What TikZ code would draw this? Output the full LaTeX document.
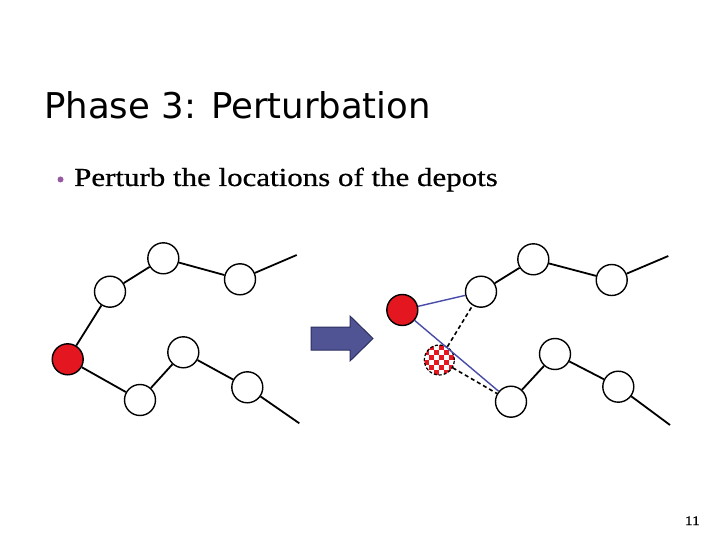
\documentclass[tikz,border=0pt]{standalone}
\usepackage{fontspec}
\setmainfont{Liberation Serif}
\newfontfamily\titlefont{DejaVu Sans}
\newfontfamily\bodyfont[FakeStretch=1.19,FakeBold=0.6]{Liberation Serif}
\definecolor{depotred}{RGB}{228,22,32}
\definecolor{routeblue}{RGB}{72,76,168}
\definecolor{arrowfill}{RGB}{80,84,148}
\definecolor{arrowdraw}{RGB}{44,48,96}
\definecolor{bulletpurple}{RGB}{150,90,160}
\tikzset{
  cust/.style={circle,draw=black,fill=white,line width=1.4pt,minimum size=31pt,inner sep=0pt},
  depot/.style={circle,draw=black,fill=depotred,line width=1.4pt,minimum size=31pt,inner sep=0pt},
  edge/.style={line width=1.8pt,black},
  newedge/.style={line width=1.4pt,routeblue},
  oldedge/.style={line width=1.6pt,black,dash pattern=on 4pt off 3pt},
  bigarrow/.style={draw=arrowdraw,fill=arrowfill,line width=1pt,line join=miter},
  checkdepot/.style={circle,minimum size=30pt,inner sep=0pt,fill=white,
    path picture={
      \foreach \i in {-4,...,3}{\foreach \j in {-4,...,3}{
        \pgfmathparse{int(mod(\i+\j+8,2))}
        \ifnum\pgfmathresult=0
          \fill[depotred] ([xshift=\i*5pt,yshift=\j*5pt]path picture bounding box.center) rectangle ++(5pt,5pt);
        \fi
      }}
    },
    draw=black,line width=1.2pt,dash pattern=on 3pt off 2pt},
}
\begin{document}
\begin{tikzpicture}[x=1pt,y=-1pt]
\useasboundingbox (0,0) rectangle (720,540);
\fill[white] (0,0) rectangle (720,540);
% title
\node[anchor=base west,inner sep=0pt,font=\titlefont\fontsize{35.5}{40}\selectfont] (title) at (44,119) {Phase 3: Perturbation};
\node[circle,fill=bulletpurple,inner sep=0pt,minimum size=6pt] (bul) at (60.5,179.5) {};
\node[anchor=base west,inner sep=0pt,font=\bodyfont\fontsize{26}{30}\selectfont] (txt) at (74,186) {Perturb the locations of the depots};
\node[anchor=base east,inner sep=0pt,font=\bodyfont\fontsize{13}{15}\selectfont] (pg) at (700,525) {11};
% left graph
\node[depot] (d) at (67.7,359.3) {};
\node[cust] (a) at (110,291.7) {};
\node[cust] (b) at (163.3,258.3) {};
\node[cust] (c) at (240,279.3) {};
\coordinate (t) at (296.7,255);
\node[cust] (e) at (140,400) {};
\node[cust] (f) at (183.3,352.3) {};
\node[cust] (g) at (247.3,387.3) {};
\coordinate (u) at (299.3,423.3);
\draw[edge] (d) -- (a) -- (b) -- (c) -- (t);
\draw[edge] (d) -- (e) -- (f) -- (g) -- (u);
% arrow
\draw[bigarrow] (311,327) -- (350,327) -- (350,316) -- (373,338.5) -- (350,361) -- (350,350) -- (311,350) -- cycle;
% right graph
\node[depot] (d2) at (402.3,310) {};
\node[checkdepot] (x2) at (439.3,360) {};
\node[cust] (a2) at (481,291.7) {};
\node[cust] (b2) at (533.3,259.3) {};
\node[cust] (c2) at (611.7,280) {};
\coordinate (t2) at (668.3,256);
\node[cust] (e2) at (511,401.7) {};
\node[cust] (f2) at (555,354) {};
\node[cust] (g2) at (618.3,386.7) {};
\coordinate (u2) at (670,425);
\draw[edge] (a2) -- (b2) -- (c2) -- (t2);
\draw[edge] (e2) -- (f2) -- (g2) -- (u2);
\draw[oldedge] (x2) -- (a2);
\draw[oldedge] (x2) -- (e2);
\draw[newedge] (d2) -- (a2);
\draw[newedge] (d2) -- (e2);
\end{tikzpicture}
\end{document}
